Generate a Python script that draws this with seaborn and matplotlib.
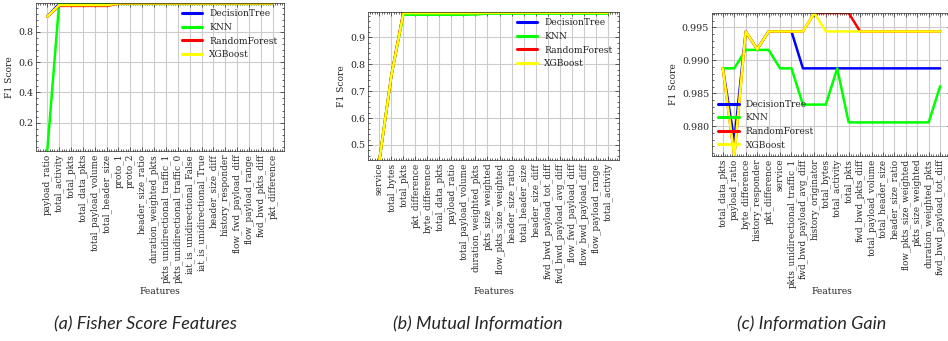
import numpy as np
import pandas as pd
import matplotlib
matplotlib.use('Agg')
import matplotlib.pyplot as plt
import seaborn as sns
from matplotlib.ticker import AutoMinorLocator

sns.set_theme(style="ticks")
plt.rcParams['font.family'] = ['DejaVu Serif']
plt.rcParams.update({
    'xtick.direction': 'in', 'ytick.direction': 'in',
    'xtick.top': True, 'ytick.right': True,
    'xtick.major.size': 3, 'ytick.major.size': 3,
    'xtick.minor.size': 1.5, 'ytick.minor.size': 1.5,
    'xtick.major.width': 0.5, 'ytick.major.width': 0.5,
    'xtick.minor.width': 0.5, 'ytick.minor.width': 0.5,
    'axes.linewidth': 0.5,
})

models = ['DecisionTree', 'KNN', 'RandomForest', 'XGBoost']
colors = ['blue', 'lime', 'red', 'yellow']

# (a) Fisher Score
feat_a = ['payload_ratio', 'total_activity', 'total_pkts', 'total_data_pkts',
          'total_payload_volume', 'total_header_size', 'proto_1', 'proto_2',
          'header_size_ratio', 'duration_weighted_pkts', 'pkts_unidirectional_traffic_1',
          'pkts_unidirectional_traffic_0', 'iat_is_unidirectional_False',
          'iat_is_unidirectional_True', 'header_size_diff', 'history_responder',
          'flow_fwd_payload_diff', 'flow_payload_range', 'fwd_bwd_pkts_diff', 'pkt_difference']
dt_a = [0.900, 0.985, 0.985, 0.985, 0.985, 0.985, 0.988, 0.988, 0.988, 0.988,
        0.988, 0.988, 0.988, 0.988, 0.988, 0.988, 0.988, 0.988, 0.988, 0.988]
knn_a = [0.013, 0.990, 0.990, 0.990, 0.990, 0.990, 0.984, 0.984, 0.984, 0.984,
         0.984, 0.984, 0.984, 0.984, 0.984, 0.984, 0.984, 0.984, 0.984, 0.984]
rf_a = [0.900, 0.971, 0.971, 0.971, 0.971, 0.971, 0.986, 0.986, 0.986, 0.986,
        0.986, 0.986, 0.986, 0.986, 0.986, 0.986, 0.986, 0.986, 0.986, 0.986]
xgb_a = [0.900, 0.976, 0.976, 0.976, 0.976, 0.976, 0.987, 0.987, 0.987, 0.987,
         0.987, 0.987, 0.987, 0.987, 0.987, 0.987, 0.987, 0.987, 0.987, 0.987]

# (b) Mutual Information
feat_b = ['service', 'total_bytes', 'total_pkts', 'pkt_difference', 'byte_difference',
          'total_data_pkts', 'payload_ratio', 'total_payload_volume', 'duration_weighted_pkts',
          'pkts_size_weighted', 'flow_pkts_size_weighted', 'header_size_ratio',
          'total_header_size', 'header_size_diff', 'fwd_bwd_payload_tot_diff',
          'fwd_bwd_payload_avg_diff', 'flow_fwd_payload_diff', 'flow_bwd_payload_diff',
          'flow_payload_range', 'total_activity']
dt_b = [0.444, 0.759, 0.992, 0.993, 0.993, 0.992, 0.992, 0.992, 0.992, 0.992,
        0.992, 0.992, 0.992, 0.992, 0.992, 0.992, 0.992, 0.992, 0.992, 0.992]
knn_b = [0.444, 0.759, 0.984, 0.984, 0.984, 0.984, 0.984, 0.984, 0.985, 0.988,
         0.988, 0.988, 0.988, 0.988, 0.988, 0.988, 0.988, 0.988, 0.988, 0.988]
rf_b = [0.444, 0.759, 0.994, 0.994, 0.994, 0.994, 0.994, 0.994, 0.994, 0.994,
        0.994, 0.994, 0.994, 0.994, 0.994, 0.994, 0.994, 0.994, 0.994, 0.994]
xgb_b = [0.444, 0.759, 0.990, 0.990, 0.990, 0.990, 0.990, 0.990, 0.990, 0.991,
         0.991, 0.991, 0.991, 0.991, 0.991, 0.991, 0.991, 0.991, 0.991, 0.991]

# (c) Information Gain
feat_c = ['total_data_pkts', 'payload_ratio', 'byte_difference', 'history_responder',
          'pkt_difference', 'service', 'pkts_unidirectional_traffic_1',
          'fwd_bwd_payload_avg_diff', 'history_originator', 'total_bytes', 'total_activity',
          'total_pkts', 'fwd_bwd_pkts_diff', 'total_payload_volume', 'total_header_size',
          'header_size_ratio', 'flow_pkts_size_weighted', 'pkts_size_weighted',
          'duration_weighted_pkts', 'fwd_bwd_payload_tot_diff']
dt_c = [0.9888, 0.9778, 0.9944, 0.9917, 0.9944, 0.9944, 0.9944, 0.9888, 0.9888, 0.9888,
        0.9888, 0.9888, 0.9888, 0.9888, 0.9888, 0.9888, 0.9888, 0.9888, 0.9888, 0.9888]
knn_c = [0.9888, 0.9888, 0.9916, 0.9916, 0.9916, 0.9888, 0.9888, 0.9833, 0.9833, 0.9833,
         0.9888, 0.9806, 0.9806, 0.9806, 0.9806, 0.9806, 0.9806, 0.9806, 0.9806, 0.9861]
rf_c = [0.9888, 0.9755, 0.9944, 0.9917, 0.9944, 0.9944, 0.9944, 0.9944, 0.9972, 0.9972,
        0.9972, 0.9972, 0.9944, 0.9944, 0.9944, 0.9944, 0.9944, 0.9944, 0.9944, 0.9944]
xgb_c = [0.9888, 0.9755, 0.9944, 0.9917, 0.9944, 0.9944, 0.9944, 0.9944, 0.9972, 0.9944,
         0.9944, 0.9944, 0.9944, 0.9944, 0.9944, 0.9944, 0.9944, 0.9944, 0.9944, 0.9944]

panels = [
    (feat_a, [dt_a, knn_a, rf_a, xgb_a], '(a) Fisher Score Features',
     [36, 3, 248, 148], 'upper right', 145),
    (feat_b, [dt_b, knn_b, rf_b, xgb_b], '(b) Mutual Information',
     [368, 12, 251, 148], 'upper right', 478),
    (feat_c, [dt_c, knn_c, rf_c, xgb_c], '(c) Information Gain',
     [712, 13, 239, 143], 'lower left', 812),
]

W, H = 948, 341
fig = plt.figure(figsize=(W / 100, H / 100), dpi=100)

for feats, vals, caption, box, loc, cx in panels:
    left, top, w, h = box
    ax = fig.add_axes([left / W, (H - top - h) / H, w / W, h / H])
    df = pd.DataFrame({
        'feature': feats * len(models),
        'model': np.repeat(models, len(feats)),
        'f1': np.concatenate(vals),
    })
    sns.lineplot(data=df, x='feature', y='f1', hue='model',
                 palette=dict(zip(models, colors)), sort=False,
                 errorbar=None, linewidth=1.8, ax=ax)
    ax.margins(x=0.05, y=0)
    ax.grid(True, color='#cccccc', linewidth=0.8)
    ax.set_axisbelow(True)
    ax.xaxis.set_minor_locator(AutoMinorLocator(5))
    ax.yaxis.set_minor_locator(AutoMinorLocator(5))
    ax.tick_params(axis='x', labelrotation=90, labelsize=6.4, pad=2)
    ax.tick_params(axis='y', labelsize=6.8, pad=2)
    ax.set_ylabel('F1 Score', fontsize=6.6, labelpad=3)
    ax.set_xlabel('Features', fontsize=6.6)
    ax.xaxis.set_label_coords(0.5, (top + h - 287) / h, transform=ax.transAxes)
    ax.xaxis.label.set_va('top')
    old = ax.get_legend()
    handles = old.legend_handles
    labels = [t.get_text() for t in old.get_texts()]
    old.remove()
    for hd in handles:
        hd.set_linewidth(2.2)
    ax.legend(handles, labels, loc=loc, frameon=False, fontsize=6.6,
              handlelength=2.2, borderaxespad=0.3, labelspacing=0.5)
    fig.text(cx / W, 1 - 324 / H, caption, ha='center', va='center',
             fontsize=13, style='italic', family=['Lato', 'DejaVu Sans'])

fig.savefig('out.png', dpi=100)
